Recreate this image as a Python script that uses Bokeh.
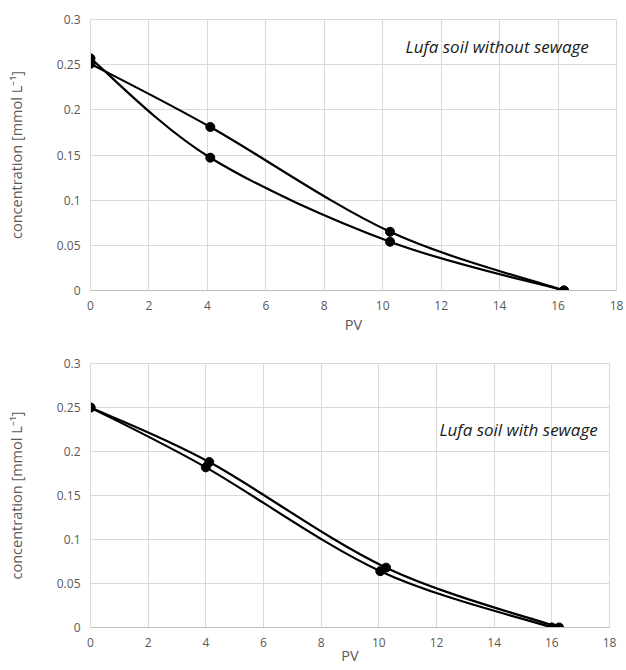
from bokeh.plotting import figure
from bokeh.layouts import column
from bokeh.models import FixedTicker, Label
from bokeh.embed import file_html
from bokeh.resources import INLINE

# ---- data ----
pv_top_a = [0.0, 4.1, 10.25, 16.2]
conc_top_a = [0.257, 0.147, 0.054, 0.0]
pv_top_b = [0.0, 4.1, 10.25, 16.2]
conc_top_b = [0.251, 0.181, 0.065, 0.0]

pv_bot_a = [0.0, 4.12, 10.25, 16.25]
conc_bot_a = [0.250, 0.188, 0.068, 0.0]
pv_bot_b = [0.0, 4.0, 10.05, 16.0]
conc_bot_b = [0.250, 0.182, 0.064, 0.0]

x_ticks = [0, 2, 4, 6, 8, 10, 12, 14, 16, 18]
y_ticks = [0, 0.05, 0.1, 0.15, 0.2, 0.25, 0.3]
y_tick_labels = ["0", "0.05", "0.1", "0.15", "0.2", "0.25", "0.3"]
x_title = "PV"
y_title = "concentration [mmol L\u207b\u00b9]"
title_top = "Lufa soil without sewage"
title_bot = "Lufa soil with sewage"

GRID = "#d9d9d9"
TXT = "#595959"
FONT = "Open Sans"


def smooth_segments(xs, ys):
    """Excel-like smoothed line: cubic Bezier segments (Catmull-Rom)."""
    n = len(xs)
    seg = dict(x0=[], y0=[], x1=[], y1=[], cx0=[], cy0=[], cx1=[], cy1=[])
    for i in range(n - 1):
        p0 = i - 1 if i > 0 else i
        p3 = i + 2 if i + 2 < n else i + 1
        seg["x0"].append(xs[i]); seg["y0"].append(ys[i])
        seg["x1"].append(xs[i + 1]); seg["y1"].append(ys[i + 1])
        seg["cx0"].append(xs[i] + (xs[i + 1] - xs[p0]) / 6)
        seg["cy0"].append(ys[i] + (ys[i + 1] - ys[p0]) / 6)
        seg["cx1"].append(xs[i + 1] - (xs[p3] - xs[i]) / 6)
        seg["cy1"].append(ys[i + 1] - (ys[p3] - ys[i]) / 6)
    return seg


def make_fig(fw, fh, bl, br, bt, bb, series, title, tx, ty, xlab_standoff):
    p = figure(frame_width=fw, frame_height=fh, x_range=(0, 18), y_range=(0, 0.3),
               output_backend="svg", toolbar_location=None,
               min_border_left=bl, min_border_right=br,
               min_border_top=bt, min_border_bottom=bb)
    p.outline_line_color = GRID
    p.background_fill_color = "white"
    p.border_fill_color = "white"
    p.xgrid.grid_line_color = GRID
    p.ygrid.grid_line_color = GRID
    p.xaxis.ticker = FixedTicker(ticks=x_ticks)
    p.yaxis.ticker = FixedTicker(ticks=y_ticks)
    p.yaxis.major_label_overrides = {t: l for t, l in zip(y_ticks, y_tick_labels)}
    for ax in (p.xaxis[0], p.yaxis[0]):
        ax.major_tick_line_color = None
        ax.minor_tick_line_color = None
        ax.major_tick_out = 0
        ax.major_tick_in = 0
        ax.minor_tick_out = 0
        ax.minor_tick_in = 0
        ax.major_label_text_color = TXT
        ax.major_label_text_font = FONT
        ax.major_label_text_font_size = "12px"
        ax.axis_label_text_color = TXT
        ax.axis_label_text_font = FONT
        ax.axis_label_text_font_style = "normal"
        ax.axis_label_text_font_size = "14.5px"
    p.xaxis.axis_line_color = "#bfbfbf"
    p.yaxis.axis_line_color = GRID
    p.xaxis.major_label_standoff = 10
    p.yaxis.major_label_standoff = 10
    p.xaxis.axis_label = x_title
    p.yaxis.axis_label = y_title
    p.xaxis.axis_label_standoff = xlab_standoff
    p.yaxis.axis_label_standoff = 28
    for xs, ys in series:
        s = smooth_segments(xs, ys)
        p.bezier(x0=s["x0"], y0=s["y0"], x1=s["x1"], y1=s["y1"],
                 cx0=s["cx0"], cy0=s["cy0"], cx1=s["cx1"], cy1=s["cy1"],
                 line_color="black", line_width=2.2)
        p.scatter(xs, ys, size=9, fill_color="black", line_color="black")
    p.add_layout(Label(x=tx, y=ty, text=title, text_font=FONT,
                       text_font_style="italic", text_font_size="17px",
                       text_color="#1a1a1a", text_baseline="middle"))
    return p


p1 = make_fig(526, 271, 90, 10, 19, 50,
              [(pv_top_a, conc_top_a), (pv_top_b, conc_top_b)],
              title_top, 10.78, 0.27, 2)
p2 = make_fig(519, 264, 89, 18, 23, 43,
              [(pv_bot_a, conc_bot_a), (pv_bot_b, conc_bot_b)],
              title_bot, 12.1, 0.225, -4)

layout = column(p1, p2, spacing=0)
open("out.html", "w").write(file_html(layout, INLINE))
